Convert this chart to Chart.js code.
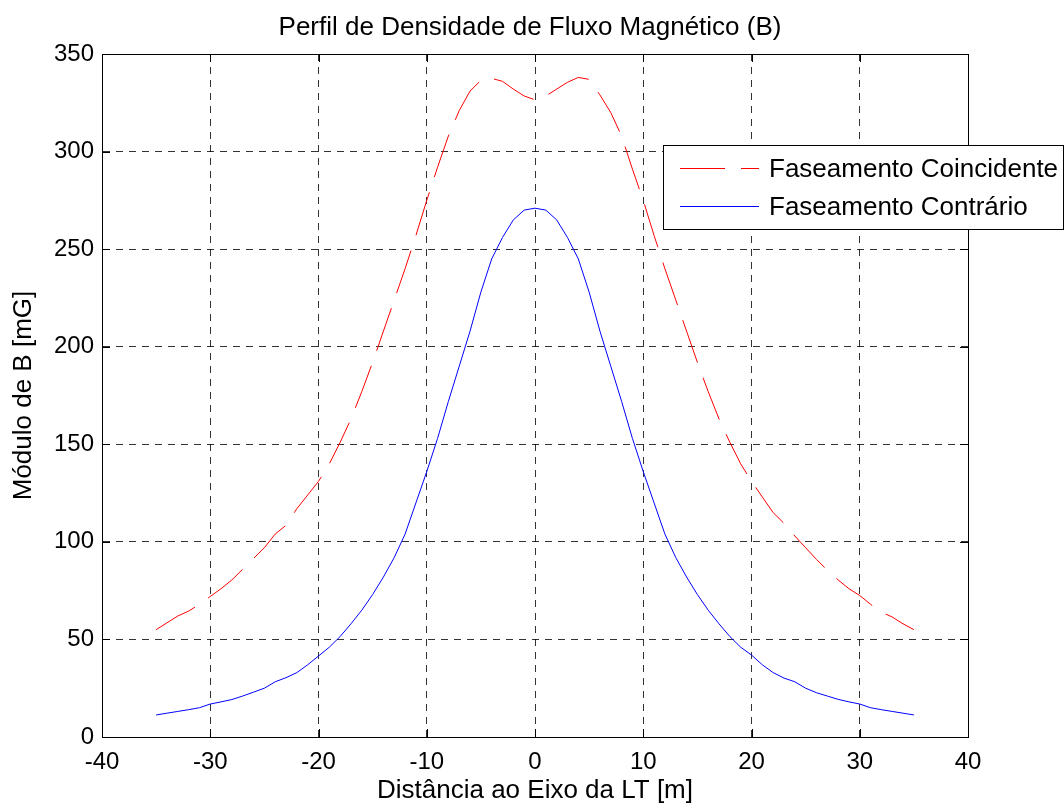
<!DOCTYPE html>
<html lang="pt">
<head>
<meta charset="UTF-8">
<title>Perfil de Densidade de Fluxo Magnético (B)</title>
<script src="https://cdn.jsdelivr.net/npm/chart.js"></script>
<style>
  body { margin: 0; background: #fff; }
  #wrap { width: 1064px; height: 807px; }
</style>
</head>
<body>
<div id="wrap"><canvas id="chart" width="1064" height="807"></canvas></div>
<script>
// distance from the line axis [m]
const distancias = [-35,-34,-33,-32,-31,-30,-29,-28,-27,-26,-25,-24,-23,-22,-21,-20,-19,-18,-17,-16,-15,-14,-13,-12,-11,-10,-9,-8,-7,-6,-5,-4,-3,-2,-1,0,
  1,2,3,4,5,6,7,8,9,10,11,12,13,14,15,16,17,18,19,20,21,22,23,24,25,26,27,28,29,30,31,32,33,34,35];

// |B| [mG], same phasing
const coincidente = [55,58.5,62,64.5,68,72,76,80.5,86,91.5,97,104,108.5,117,124,131,140,151,163,177,192,208,224,240,257,275,292,308,321,331,336.5,337.5,336,332,328.5,326.5,
  328.5,332,335.5,338,337,329,320,308,291,275,257,240,224,208,192,177,163,151,140,131,123,115,109.5,103,97,91,85.5,80.5,76,72.5,68,64,61.5,58,55];

// |B| [mG], opposite phasing
const contrario = [11.3,12.2,13.1,14,15,16.9,18,19.2,21,23,25,28.3,30.4,33,37,41.5,46,51.5,58,65,73,82,92,104,120,136,153,172,190,208,228,245,256,265,270,271,
  270,265,256,245,228,208,190,172,153,136,120,104,92,82,73,65,58,51.5,46,42,37,33,30.2,28.3,25,22.7,21,19.3,18,16.9,15,14,13.1,12.2,11.3];

const xTicks = [-40,-30,-20,-10,0,10,20,30,40];
const yTicks = [0,50,100,150,200,250,300,350];

const titulo = 'Perfil de Densidade de Fluxo Magnético (B)';
const FONT = "'Liberation Sans', Arial, sans-serif";

// box round the axes with MATLAB-style inner ticks, plus the title
const boxPlugin = {
  id: 'box',
  afterDatasetsDraw(chart) {
    const { ctx, chartArea: a, scales } = chart;
    ctx.save();
    ctx.strokeStyle = '#000';
    ctx.lineWidth = 1;
    ctx.setLineDash([]);
    ctx.strokeRect(Math.round(a.left) + 0.5, Math.round(a.top) + 0.5,
      Math.round(a.right - a.left), Math.round(a.bottom - a.top));
    const tl = 8;
    ctx.beginPath();
    xTicks.forEach(v => {
      const px = Math.round(scales.x.getPixelForValue(v)) + 0.5;
      ctx.moveTo(px, a.bottom); ctx.lineTo(px, a.bottom - tl);
      ctx.moveTo(px, a.top); ctx.lineTo(px, a.top + tl);
    });
    yTicks.forEach(v => {
      const py = Math.round(scales.y.getPixelForValue(v)) + 0.5;
      ctx.moveTo(a.left, py); ctx.lineTo(a.left + tl, py);
      ctx.moveTo(a.right, py); ctx.lineTo(a.right - tl, py);
    });
    ctx.stroke();

    ctx.fillStyle = '#000';
    ctx.font = '26px ' + FONT;
    ctx.textAlign = 'center';
    ctx.textBaseline = 'middle';
    ctx.fillText(titulo, 530, 28);
    ctx.restore();
  }
};

// legend box placed like the original
const legendPlugin = {
  id: 'boxLegend',
  afterDraw(chart) {
    const { ctx } = chart;
    const x0 = 663, y0 = 145, w = 400, h = 84;
    ctx.save();
    ctx.fillStyle = '#fff';
    ctx.fillRect(x0, y0, w, h);
    ctx.strokeStyle = '#000';
    ctx.lineWidth = 1;
    ctx.setLineDash([]);
    ctx.strokeRect(x0 + 0.5, y0 + 0.5, w, h);
    ctx.font = '26px ' + FONT;
    ctx.textBaseline = 'middle';
    ctx.fillStyle = '#000';
    chart.data.datasets.forEach((ds, i) => {
      const y = [168.5, 206.5][i];
      ctx.strokeStyle = ds.borderColor;
      ctx.setLineDash(ds.borderDash || []);
      ctx.beginPath();
      ctx.moveTo(680, y); ctx.lineTo(759, y);
      ctx.stroke();
      ctx.setLineDash([]);
      ctx.fillText(ds.label, 769, y + 1);
    });
    ctx.restore();
  }
};

new Chart(document.getElementById('chart'), {
  type: 'line',
  data: {
    datasets: [
      {
        label: 'Faseamento Coincidente',
        data: distancias.map((d, i) => ({ x: d, y: coincidente[i] })),
        borderColor: '#ff0000',
        borderWidth: 1,
        borderDash: [45, 16],
        pointRadius: 0,
        tension: 0
      },
      {
        label: 'Faseamento Contrário',
        data: distancias.map((d, i) => ({ x: d, y: contrario[i] })),
        borderColor: '#0000ff',
        borderWidth: 1,
        pointRadius: 0,
        tension: 0
      }
    ]
  },
  options: {
    responsive: false,
    animation: false,
    layout: { padding: { left: 0, right: 96, top: 54, bottom: 0 } },
    plugins: {
      legend: { display: false },
      tooltip: { enabled: false },
      title: { display: false }
    },
    scales: {
      x: {
        type: 'linear',
        min: -40, max: 40,
        afterFit(s) { s.height = 70; },
        afterBuildTicks(s) { s.ticks = xTicks.map(v => ({ value: v })); },
        ticks: { color: '#000', padding: 11, font: { family: FONT, size: 24 }, maxRotation: 0 },
        grid: { color: 'rgba(0,0,0,0.8)', lineWidth: 1, drawTicks: false },
        border: { display: true, color: '#000', dash: [7, 6] },
        title: {
          display: true,
          text: 'Distância ao Eixo da LT [m]',
          color: '#000',
          font: { family: FONT, size: 26, lineHeight: 1.2 },
          padding: { top: 0, bottom: 1 }
        }
      },
      y: {
        min: 0, max: 350,
        afterFit(s) { s.width = 102; },
        afterBuildTicks(s) { s.ticks = yTicks.map(v => ({ value: v })); },
        ticks: { color: '#000', padding: 8, font: { family: FONT, size: 24 } },
        grid: { color: 'rgba(0,0,0,0.8)', lineWidth: 1, drawTicks: false },
        border: { display: true, color: '#000', dash: [7, 6] },
        title: {
          display: true,
          text: 'Módulo de B [mG]',
          color: '#000',
          font: { family: FONT, size: 26, lineHeight: 1.2 },
          padding: { top: 8, bottom: 0 }
        }
      }
    }
  },
  plugins: [boxPlugin, legendPlugin]
});
</script>
</body>
</html>
